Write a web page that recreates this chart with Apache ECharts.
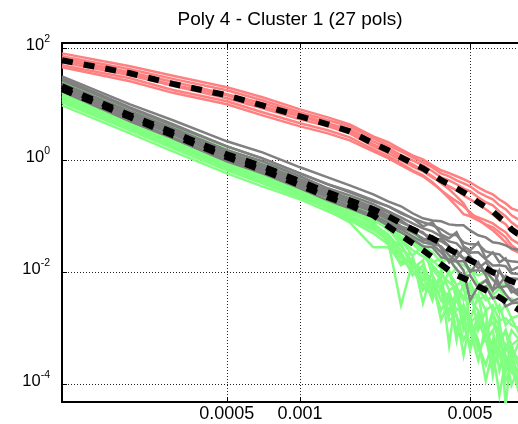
<!DOCTYPE html>
<html><head><meta charset="utf-8">
<style>html,body{margin:0;padding:0;background:#fff}#c{width:518px;height:424px}</style>
<script src="https://cdn.jsdelivr.net/npm/echarts@6.0.0/dist/echarts.min.js"></script>
</head><body><div id="c"></div>
<script>
const titleText = 'Poly 4 - Cluster 1 (27 pols)';
const freqs = [1.05e-4, 2e-4, 3e-4, 5e-4, 7e-4, 1e-3, 1.3e-3, 1.6e-3, 2e-3, 2.3e-3, 2.6e-3, 2.9e-3, 3.2e-3, 3.5e-3, 3.8e-3, 4.1e-3, 4.4e-3, 4.7e-3, 5.0e-3, 5.4e-3, 5.8e-3, 6.2e-3, 6.6e-3, 7.0e-3, 7.4e-3, 8.0e-3];
const xTicks = [0.0005, 0.001, 0.005];
const xTickLabels = ['0.0005', '0.001', '0.005'];
const yTicks = [1e-4, 1e-2, 1, 100];
const yTickExponents = ['-4', '-2', '0', '2'];

const red1 = [79.5, 46.7, 31.6, 19.7, 13.1, 7.95, 5.73, 4.30, 2.62, 2.06, 1.54, 1.20, 1.02, 0.80, 0.651, 0.577, 0.508, 0.450, 0.397, 0.322, 0.274, 0.241, 0.196, 0.167, 0.136, 0.120];
const red2 = [70.6, 41.4, 27.9, 17.5, 11.6, 7.06, 5.09, 3.97, 2.42, 1.82, 1.42, 1.11, 0.902, 0.733, 0.573, 0.507, 0.431, 0.381, 0.337, 0.263, 0.224, 0.197, 0.154, 0.131, 0.102, 0.0831];
const red3 = [64.9, 36.5, 24.7, 14.8, 10.2, 6.49, 4.48, 3.51, 2.14, 1.61, 1.21, 0.977, 0.797, 0.623, 0.487, 0.431, 0.366, 0.310, 0.274, 0.214, 0.175, 0.154, 0.120, 0.098, 0.0763, 0.0597];
const red4 = [55.0, 32.3, 20.9, 12.6, 8.31, 5.29, 3.97, 2.97, 1.74, 1.31, 0.981, 0.765, 0.623, 0.487, 0.397, 0.336, 0.285, 0.232, 0.197, 0.160, 0.131, 0.106, 0.0831, 0.0705, 0.0528, 0.0413];
const red5 = [48.7, 28.6, 17.7, 11.1, 7.05, 4.49, 3.37, 2.52, 1.54, 1.16, 0.867, 0.649, 0.529, 0.397, 0.286, 0.205, 0.148, 0.107, 0.0981, 0.0830, 0.0706, 0.0622, 0.0508, 0.0414, 0.0297, 0.0233];
const red6 = [44.9, 25.3, 15.7, 9.80, 6.23, 3.96, 2.97, 2.23, 1.42, 1.07, 0.799, 0.623, 0.508, 0.380, 0.286, 0.223, 0.181, 0.148, 0.116, 0.0865, 0.0677, 0.055, 0.0431, 0.0337, 0.0253, 0.0214];
const red7 = [59.8, 35.1, 21.8, 14.2, 9.02, 5.98, 4.31, 3.23, 1.89, 1.48, 1.07, 0.830, 0.649, 0.507, 0.381, 0.297, 0.223, 0.167, 0.106, 0.094, 0.0831, 0.0732, 0.0598, 0.0508, 0.0381, 0.0310];
const redMean = [59.8, 35.1, 22.7, 14.2, 9.40, 5.98, 4.31, 3.23, 1.97, 1.48, 1.11, 0.865, 0.705, 0.551, 0.431, 0.365, 0.310, 0.263, 0.223, 0.174, 0.142, 0.120, 0.094, 0.0766, 0.0574, 0.0449];

const gray1 = [31.0, 9.80, 5.08, 2.14, 1.36, 0.735, 0.487, 0.350, 0.242, 0.181, 0.148, 0.111, 0.0903, 0.0828, 0.0798, 0.0703, 0.0676, 0.0677, 0.0549, 0.0449, 0.0412, 0.0336, 0.0323, 0.0297, 0.0262, 0.0242];
const gray2 = [26.2, 8.30, 4.12, 1.74, 1.06, 0.574, 0.366, 0.274, 0.190, 0.148, 0.111, 0.0901, 0.0768, 0.0677, 0.0575, 0.0466, 0.0447, 0.0336, 0.0309, 0.0310, 0.0231, 0.0214, 0.0205, 0.0160, 0.0154, 0.0148];
const gray3 = [23.2, 7.36, 3.66, 1.48, 0.942, 0.508, 0.310, 0.232, 0.161, 0.121, 0.0941, 0.0735, 0.0599, 0.0527, 0.0430, 0.0350, 0.0323, 0.0242, 0.0222, 0.0223, 0.0167, 0.0130, 0.0131, 0.0126, 0.00940, 0.00903];
const gray4 = [20.5, 6.49, 3.22, 1.30, 0.797, 0.430, 0.274, 0.197, 0.136, 0.102, 0.0764, 0.0623, 0.0487, 0.0396, 0.0351, 0.0285, 0.0214, 0.0174, 0.0181, 0.0141, 0.00975, 0.0106, 0.0102, 0.00735, 0.00764, 0.00736];
const gray5 = [18.9, 5.74, 2.85, 1.11, 0.677, 0.365, 0.232, 0.167, 0.116, 0.0866, 0.0623, 0.0507, 0.0397, 0.0322, 0.0286, 0.0197, 0.0154, 0.0154, 0.0106, 0.0106, 0.0102, 0.00735, 0.00528, 0.00552, 0.00550, 0.00396];
const gray6 = [17.4, 5.29, 2.52, 1.02, 0.624, 0.336, 0.214, 0.148, 0.102, 0.0765, 0.0574, 0.0431, 0.0337, 0.0309, 0.0223, 0.0154, 0.0154, 0.0106, 0.00309, 0.00551, 0.00702, 0.00467, 0.00574, 0.00397, 0.00297, 0.00336];
const gray7 = [16.7, 4.87, 2.42, 0.938, 0.575, 0.310, 0.189, 0.136, 0.0943, 0.0676, 0.0507, 0.0381, 0.0285, 0.0273, 0.0182, 0.0167, 0.0111, 0.00832, 0.00864, 0.00507, 0.00549, 0.00336, 0.00381, 0.00242, 0.00274, 0.00285];
const gray8 = [28.5, 8.66, 4.31, 1.74, 1.064, 0.574, 0.365, 0.263, 0.181, 0.148, 0.115, 0.0902, 0.0649, 0.0766, 0.0468, 0.0396, 0.0507, 0.0285, 0.0242, 0.0336, 0.0174, 0.0223, 0.0148, 0.0174, 0.0106, 0.0125];
const gray9 = [19.7, 5.98, 2.97, 1.20, 0.735, 0.397, 0.252, 0.181, 0.125, 0.0940, 0.0649, 0.0551, 0.0365, 0.0431, 0.0263, 0.0148, 0.0242, 0.0174, 0.00980, 0.0148, 0.00866, 0.00468, 0.0106, 0.00649, 0.00431, 0.00507];
const gray10 = [22.3, 6.76, 3.36, 1.36, 0.831, 0.449, 0.285, 0.205, 0.142, 0.115, 0.0832, 0.0598, 0.0507, 0.0336, 0.0396, 0.0285, 0.0174, 0.0263, 0.0189, 0.0115, 0.0148, 0.0106, 0.00598, 0.00832, 0.00468, 0.00365];
const grayMean = [20.5, 6.24, 3.10, 1.25, 0.766, 0.413, 0.263, 0.189, 0.131, 0.0980, 0.0735, 0.0574, 0.0468, 0.0396, 0.0323, 0.0252, 0.0214, 0.0189, 0.0160, 0.0136, 0.0115, 0.00980, 0.00866, 0.00766, 0.00676, 0.00598];

const green1 = [25.2, 7.98, 3.80, 1.54, 0.902, 0.487, 0.297, 0.214, 0.142, 0.0902, 0.0649, 0.0487, 0.0365, 0.0285, 0.0223, 0.0174, 0.0148, 0.0131, 0.0106, 0.00866, 0.00980, 0.00705, 0.00574, 0.00623, 0.00468, 0.00431];
const green2 = [21.4, 6.76, 3.23, 1.31, 0.766, 0.413, 0.252, 0.181, 0.120, 0.0766, 0.0551, 0.0396, 0.0285, 0.0223, 0.0148, 0.0174, 0.0106, 0.00832, 0.0115, 0.00598, 0.00705, 0.00380, 0.00507, 0.00310, 0.00336, 0.00252];
const green3 = [18.9, 5.98, 2.85, 1.155, 0.677, 0.365, 0.223, 0.160, 0.106, 0.0676, 0.0431, 0.0310, 0.0223, 0.0160, 0.0115, 0.00980, 0.00574, 0.00705, 0.00431, 0.00507, 0.00310, 0.00365, 0.00189, 0.00252, 0.00148, 0.00167];
const green4 = [16.7, 5.29, 2.52, 1.02, 0.598, 0.310, 0.125, 0.0766, 0.0274, 0.0274, 0.0148, 0.0174, 0.00574, 0.00705, 0.00310, 0.00431, 0.00205, 0.00252, 0.00125, 0.00167, 0.000902, 0.00125, 0.000598, 0.000902, 0.000487, 0.000649];
const green5 = [15.4, 4.87, 2.32, 0.940, 0.551, 0.297, 0.181, 0.125, 0.0766, 0.0365, 0.00252, 0.0148, 0.00866, 0.00310, 0.0106, 0.00468, 0.00574, 0.00136, 0.00310, 0.00205, 0.000735, 0.00167, 0.00111, 0.000396, 0.000902, 0.000598];
const green6 = [13.6, 4.31, 2.05, 0.831, 0.487, 0.263, 0.167, 0.115, 0.0705, 0.0468, 0.0242, 0.0197, 0.00274, 0.0115, 0.00705, 0.000487, 0.00468, 0.00310, 0.00574, 0.000902, 0.00205, 0.000214, 0.00136, 0.0000413, 0.000396, 0.000263];
const green7 = [12.0, 3.80, 1.82, 0.735, 0.431, 0.232, 0.148, 0.102, 0.0598, 0.0396, 0.0297, 0.0148, 0.0106, 0.00468, 0.00574, 0.00310, 0.000902, 0.00189, 0.000396, 0.00136, 0.000598, 0.000902, 0.000174, 0.000487, 0.000263, 0.0000766];
const green8 = [10.6, 3.36, 1.60, 0.649, 0.380, 0.214, 0.136, 0.0902, 0.0551, 0.0365, 0.0197, 0.0131, 0.00705, 0.00866, 0.00310, 0.00205, 0.00380, 0.000902, 0.00148, 0.000487, 0.000214, 0.000598, 0.000323, 0.000160, 0.000396, 0.0000940];
const green9 = [9.40, 2.97, 1.42, 0.574, 0.336, 0.197, 0.120, 0.0832, 0.0487, 0.0310, 0.0174, 0.0106, 0.00574, 0.00380, 0.00468, 0.00136, 0.00167, 0.000598, 0.00111, 0.000396, 0.000649, 0.000174, 0.000396, 0.000115, 0.000214, 0.0000623];
const green10 = [14.2, 4.49, 2.14, 0.866, 0.507, 0.285, 0.174, 0.125, 0.0832, 0.0598, 0.0396, 0.0242, 0.0189, 0.0131, 0.00866, 0.00649, 0.00507, 0.00365, 0.00310, 0.00380, 0.00205, 0.00252, 0.00136, 0.00148, 0.00111, 0.00098];
const green11 = [23.2, 7.35, 3.51, 1.42, 0.831, 0.449, 0.274, 0.197, 0.131, 0.0832, 0.0507, 0.0365, 0.0242, 0.0148, 0.0174, 0.00866, 0.0115, 0.00468, 0.00649, 0.00310, 0.00380, 0.00205, 0.00252, 0.00111, 0.00148, 0.000735];
const green12 = [17.4, 5.51, 2.63, 1.064, 0.623, 0.336, 0.205, 0.148, 0.0980, 0.0551, 0.0365, 0.0197, 0.0297, 0.00866, 0.00468, 0.0106, 0.00310, 0.00574, 0.00136, 0.00380, 0.000735, 0.00205, 0.000487, 0.000902, 0.000263, 0.000598];
const green13 = [13.1, 4.13, 1.97, 0.797, 0.467, 0.252, 0.160, 0.111, 0.0735, 0.0431, 0.0223, 0.00866, 0.0131, 0.00574, 0.00205, 0.00380, 0.000598, 0.00252, 0.000902, 0.000263, 0.00111, 0.000142, 0.000598, 0.000323, 0.0000940, 0.000214];
const green14 = [11.5, 3.65, 1.74, 0.705, 0.413, 0.223, 0.142, 0.0980, 0.0649, 0.0336, 0.0131, 0.0174, 0.00468, 0.00705, 0.00136, 0.00310, 0.00167, 0.000323, 0.00136, 0.000598, 0.000115, 0.000396, 0.0000623, 0.000263, 0.000160, 0.000106];
const green15 = [16.0, 5.07, 2.42, 0.980, 0.574, 0.310, 0.189, 0.136, 0.0902, 0.0574, 0.0310, 0.0115, 0.0160, 0.00380, 0.00766, 0.00167, 0.00468, 0.00111, 0.000487, 0.00189, 0.000902, 0.000431, 0.000735, 0.000214, 0.000487, 0.000174];
const greenMean = [18.2, 5.74, 2.74, 1.11, 0.649, 0.351, 0.214, 0.154, 0.102, 0.0649, 0.0449, 0.0323, 0.0242, 0.0182, 0.0136, 0.0106, 0.00866, 0.00766, 0.00676, 0.00551, 0.00468, 0.00413, 0.00351, 0.00297, 0.00252, 0.00205];

const redLines = [red1, red2, red3, red4, red5, red6, red7];
const grayLines = [gray1, gray2, gray3, gray4, gray5, gray6, gray7, gray8, gray9, gray10];
const greenLines = [green1, green2, green3, green4, green5, green6, green7, green8, green9, green10, green11, green12, green13, green14, green15];

const RED = 'rgb(255,128,128)', GRAY = 'rgb(128,128,128)', GREEN = 'rgb(128,255,128)';
const FONT = 'Liberation Sans';

function pairs(vals) { return vals.map((v, i) => [freqs[i], v]); }
function lineSeries(vals, color, width, dash) {
  return {
    type: 'line', data: pairs(vals), showSymbol: false, symbol: 'none', silent: true,
    animation: false, clip: true,
    lineStyle: { color: color, width: width, type: dash || 'solid', cap: 'butt', join: 'miter' }
  };
}
const series = [];
redLines.forEach(v => series.push(lineSeries(v, RED, 2.5)));
greenLines.forEach(v => series.push(lineSeries(v, GREEN, 2.5)));
grayLines.forEach(v => series.push(lineSeries(v, GRAY, 2.5)));
[redMean, grayMean, greenMean].forEach(v => series.push(lineSeries(v, '#000', 6, [11, 11])));

const X_MIN = 1.05e-4, X_MAX = 7.87e-3;
const Y_MIN = 4.73e-5, Y_MAX = 121.9;

function xLabel(v) {
  for (let i = 0; i < xTicks.length; i++) if (Math.abs(v / xTicks[i] - 1) < 1e-3) return xTickLabels[i];
  return '';
}
function yLabel(v) {
  for (let i = 0; i < yTicks.length; i++) if (Math.abs(v / yTicks[i] - 1) < 1e-3) return '{b|10}{s|' + yTickExponents[i] + '}';
  return '';
}

const chart = echarts.init(document.getElementById('c'), null, { renderer: 'canvas' });
chart.setOption({
  backgroundColor: '#fff',
  animation: false,
  title: {
    text: titleText, left: 285, top: 5, textAlign: 'center',
    textStyle: { fontFamily: FONT, fontSize: 19, fontWeight: 'normal', color: '#000' }
  },
  grid: { left: 62, right: 0, top: 43, bottom: 22, containLabel: false },
  xAxis: [{
    type: 'log', min: X_MIN, max: X_MAX, position: 'bottom',
    axisLine: { show: true, onZero: false, lineStyle: { color: '#000', width: 2 } },
    axisTick: { show: true, inside: true, length: 5, customValues: xTicks, lineStyle: { color: '#000', width: 1 } },
    axisLabel: { show: true, customValues: xTicks, formatter: xLabel, margin: 3, fontFamily: FONT, fontSize: 18, color: '#000', showMinLabel: true, showMaxLabel: true },
    splitLine: { show: true, lineStyle: { color: '#222', width: 1, type: [1, 2] } },
    minorTick: { show: false }, minorSplitLine: { show: false }
  }, {
    type: 'log', min: X_MIN, max: X_MAX, position: 'top',
    axisLine: { show: true, onZero: false, lineStyle: { color: '#000', width: 2 } },
    axisTick: { show: true, inside: true, length: 5, customValues: xTicks, lineStyle: { color: '#000', width: 1 } },
    axisLabel: { show: false }, splitLine: { show: false }
  }],
  yAxis: [{
    type: 'log', min: Y_MIN, max: Y_MAX, position: 'left',
    axisLine: { show: true, onZero: false, lineStyle: { color: '#000', width: 2 } },
    axisTick: { show: true, inside: true, length: 5, customValues: yTicks, lineStyle: { color: '#000', width: 1 } },
    axisLabel: {
      show: true, customValues: yTicks, formatter: yLabel, margin: 12, padding: [0, 0, 8, 0],
      rich: {
        b: { fontFamily: FONT, fontSize: 16.5, color: '#000', lineHeight: 20, verticalAlign: 'bottom' },
        s: { fontFamily: FONT, fontSize: 10.5, color: '#000', lineHeight: 11, verticalAlign: 'top' }
      }
    },
    splitLine: { show: true, lineStyle: { color: '#222', width: 1, type: [1, 2] } },
    minorTick: { show: false }, minorSplitLine: { show: false }
  }],
  series: series
});
</script>
</body></html>
